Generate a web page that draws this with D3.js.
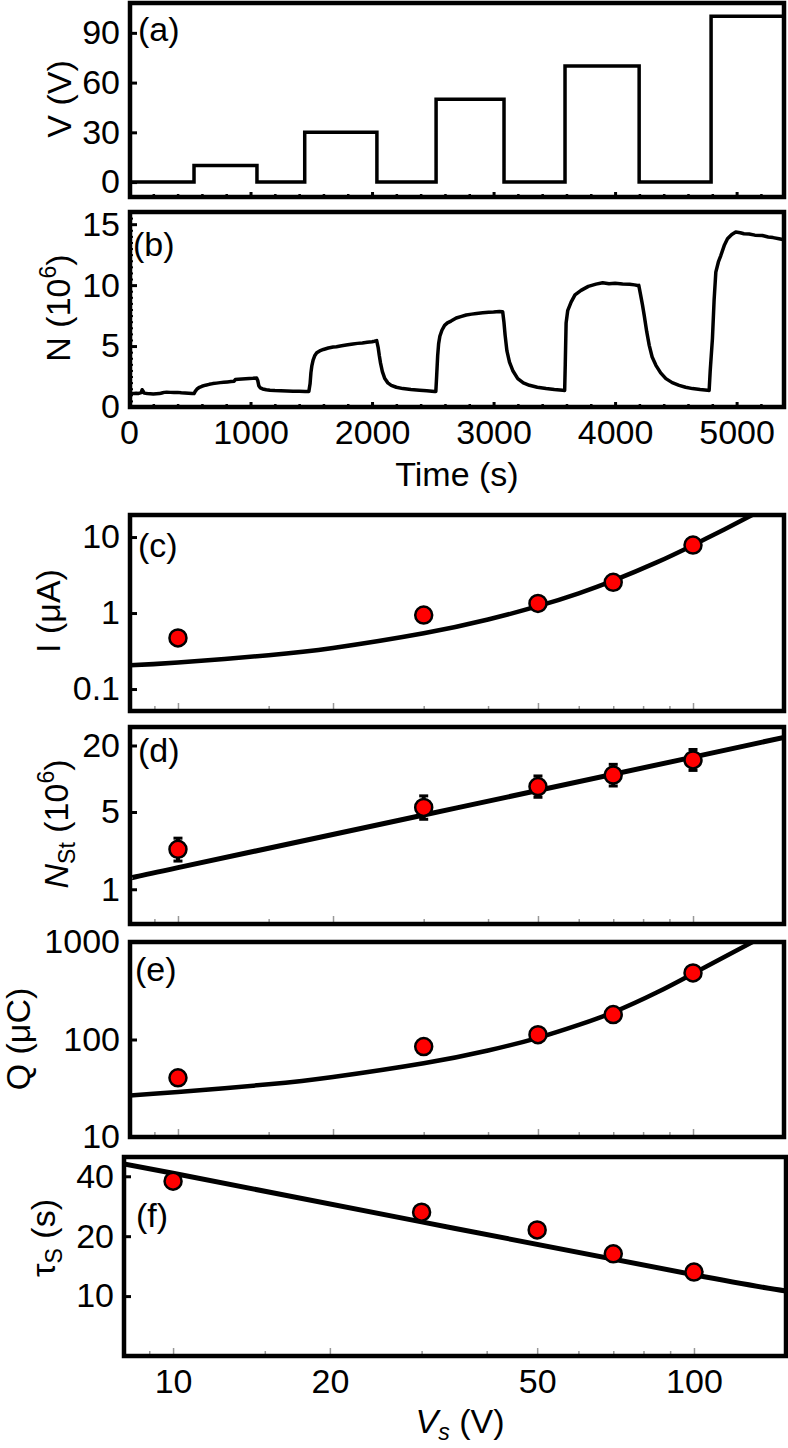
<!doctype html>
<html lang="en">
<head>
<meta charset="utf-8">
<title>Voltage steps, stored number and fits</title>
<script src="https://cdn.jsdelivr.net/npm/d3@7"></script>
<style>
  body { margin: 0; background: #fff; }
  svg text { font-family: "Liberation Sans", Arial, sans-serif; fill: #000; }
</style>
</head>
<body>
<svg id="fig" width="788" height="1448"></svg>
<script>
// (a) applied voltage steps: start time of each level and its value
const stepTime = [0, 535, 1053, 1446, 2040, 2527, 3086, 3588, 4198, 4790, 5390];
const stepVolt = [0, 10, 0, 30, 0, 50, 0, 70, 0, 100, 100];

const nTime = [0, 20, 40, 60, 80, 100, 108, 116, 125, 150, 175, 200, 225, 250, 270, 290, 310, 340, 370, 400, 430, 460, 490, 520, 535,
  545, 560, 580, 600, 630, 660, 690, 720, 750, 780, 810, 840, 865, 875, 900, 930, 960, 990, 1020, 1050,
  1060, 1068, 1080, 1100, 1130, 1160, 1200, 1250, 1300, 1350, 1400, 1450, 1480,
  1490, 1497, 1505, 1515, 1528, 1545, 1569, 1600, 1640, 1680, 1707, 1750, 1800, 1843, 1880, 1920, 1960, 2000, 2020, 2038,
  2050, 2060, 2070, 2085, 2105, 2130, 2158, 2200, 2254, 2320, 2391, 2450, 2514, 2525,
  2532, 2540, 2548, 2558, 2575, 2597, 2620, 2650, 2693, 2730, 2775, 2820, 2860, 2911, 2960, 3000, 3048, 3075,
  3085, 3095, 3110, 3131, 3160, 3199, 3245, 3295, 3360, 3432, 3500, 3569, 3585,
  3590, 3597, 3610, 3638, 3670, 3720, 3780, 3843, 3898, 3950, 4000, 4062, 4120, 4160, 4185, 4195,
  4210, 4225, 4240, 4260, 4281, 4305, 4336, 4375, 4418, 4470, 4527, 4580, 4637, 4700, 4760, 4774,
  4783, 4801, 4815, 4829, 4850, 4870, 4900, 4925, 4960, 4993, 5030, 5060, 5103, 5150, 5212, 5260, 5300, 5349, 5390];
const nValue = [1.15, 1.12, 1.10, 1.13, 1.11, 1.18, 1.42, 1.30, 1.14, 1.10, 1.08, 1.06, 1.09, 1.10, 1.15, 1.20, 1.22, 1.20, 1.19, 1.20, 1.17, 1.15, 1.13, 1.11, 1.10,
  1.28, 1.48, 1.62, 1.70, 1.79, 1.86, 1.92, 1.96, 2.00, 2.03, 2.06, 2.09, 2.12, 2.25, 2.28, 2.30, 2.32, 2.34, 2.35, 2.38,
  2.15, 1.75, 1.57, 1.48, 1.42, 1.38, 1.35, 1.33, 1.32, 1.30, 1.29, 1.28, 1.28,
  1.9, 2.8, 3.4, 3.85, 4.2, 4.45, 4.6, 4.72, 4.84, 4.92, 4.95, 5.02, 5.10, 5.17, 5.22, 5.26, 5.31, 5.36, 5.40, 5.45,
  4.9, 4.2, 3.6, 2.9, 2.33, 1.98, 1.78, 1.62, 1.51, 1.43, 1.37, 1.33, 1.28, 1.28,
  2.6, 4.2, 5.2, 5.8, 6.3, 6.7, 6.9, 7.05, 7.3, 7.42, 7.55, 7.62, 7.68, 7.73, 7.78, 7.80, 7.84, 7.82,
  7.0, 5.9, 4.6, 3.69, 2.95, 2.33, 1.98, 1.78, 1.62, 1.51, 1.43, 1.37, 1.36,
  3.5, 6.9, 7.9, 8.6, 9.2, 9.57, 9.9, 10.08, 10.2, 10.12, 10.15, 10.1, 10.08, 10.02, 9.97, 9.98,
  9.2, 8.4, 7.5, 6.2, 5.06, 4.1, 3.42, 2.8, 2.33, 2.0, 1.78, 1.62, 1.51, 1.43, 1.37, 1.36,
  3.0, 5.6, 8.8, 11.07, 11.9, 12.43, 13.3, 13.8, 14.15, 14.35, 14.3, 14.22, 14.2, 14.1, 14.07, 13.95, 13.9, 13.8, 13.72];

// (c)-(f) measured points versus source voltage Vs (V)
const vs = [10, 30, 50, 70, 100];
const current = [0.47, 0.94, 1.34, 2.54, 7.85];      // I (uA)
const stored = [2.3, 5.5, 8.5, 10.8, 14.8];          // N_St (10^6)
const storedLo = [1.8, 4.3, 6.8, 8.6, 11.9];
const storedHi = [2.9, 7.0, 10.6, 13.5, 18.4];
const charge = [40.5, 84.7, 112, 180, 482];          // Q (uC)
const tau = [37.8, 26.4, 21.5, 16.3, 13.2];          // tau_S (s)

// fitted curves
const currentFitV = [8.07, 10, 15, 20, 30, 40, 50, 60, 70, 85, 100, 115, 135];
const currentFit = [0.205, 0.223, 0.279, 0.347, 0.542, 0.822, 1.23, 1.82, 2.67, 4.64, 7.82, 12.6, 22.1];
const storedFitV = [8.07, 10, 30, 100, 150.2];
const storedFit = [1.26, 1.57, 4.7, 15.7, 23.7];
const chargeFitV = [8.07, 10, 15, 20, 30, 40, 50, 60, 70, 85, 100, 115, 135];
const chargeFit = [26.7, 28.9, 34.7, 41.2, 57, 77.1, 104, 141, 190, 303, 474, 701, 1100];
const tauFitV = [8.05, 10, 30, 100, 150.2];
const tauFit = [46.2, 41.4, 23.6, 12.8, 10.6];

// tick values
const timeMajor = [0, 1000, 2000, 3000, 4000, 5000];
const timeMinor = d3.range(200, 5390, 200).filter(t => t % 1000 !== 0);
const voltTicks = [0, 30, 60, 90];
const nTicks = [0, 5, 10, 15];
const nMinor = d3.range(0.5, 16, 0.5).filter(v => v % 5 !== 0);
const vsMajor = [10, 20, 50, 100];
const vsMinor = [9, 15, 30, 40, 60, 70, 80, 90];
const currentTicks = [0.1, 1, 10];
const storedTicks = [1, 5, 20];
const chargeTicks = [10, 100, 1000];
const tauTicks = [10, 20, 40];

const FS = 34;
const svg = d3.select("#fig");

const pA = {l: 130, r: 784, t: 3, b: 197};
const pB = {l: 130, r: 784, t: 212, b: 407};
const pC = {l: 130, r: 784, t: 515, b: 711};
const pD = {l: 130, r: 784, t: 727, b: 924};
const pE = {l: 130, r: 784, t: 942, b: 1137};
const pF = {l: 124, r: 786, t: 1157, b: 1356};

const xT = d3.scaleLinear([0, 5390], [129, 784]);
const yA = d3.scaleLinear([-9, 108], [pA.b, pA.t]);
const yB = d3.scaleLinear([0, 16], [pB.b, pB.t]);
const xV = d3.scaleLog([8.07, 150.2], [pC.l, pC.r]);
const xVF = d3.scaleLog([8.05, 150.2], [pF.l, pF.r]);
const yC = d3.scaleLog([0.0514, 19.5], [pC.b, pC.t]);
const yD = d3.scaleLog([0.485, 29.4], [pD.b, pD.t]);
const yE = d3.scaleLog([10, 1000], [pE.b, pE.t]);
const yF = d3.scaleLog([5, 50], [pF.b, pF.t]);

let clipN = 0;
function clipFor(p) {
  const id = "clip" + (clipN++);
  svg.append("clipPath").attr("id", id).append("rect")
    .attr("x", p.l).attr("y", p.t).attr("width", p.r - p.l).attr("height", p.b - p.t);
  return "url(#" + id + ")";
}

function frame(p) {
  svg.append("rect")
    .attr("x", p.l).attr("y", p.t).attr("width", p.r - p.l).attr("height", p.b - p.t)
    .attr("fill", "none").attr("stroke", "#000").attr("stroke-width", 4.5);
}

function styleAxis(g) {
  g.select(".domain").remove();
  g.attr("font-size", FS).attr("font-family", "'Liberation Sans', Arial, sans-serif");
}

function yAxis(scale, p, values, fmt) {
  const g = svg.append("g").attr("transform", `translate(${p.l},0)`)
    .call(d3.axisLeft(scale).tickValues(values).tickSize(-7).tickPadding(10).tickFormat(fmt));
  styleAxis(g);
  g.selectAll("line").attr("stroke-width", 3);
  return g;
}

function minorY(scale, p, values, size) {
  const g = svg.append("g").attr("transform", `translate(${p.l},0)`)
    .call(d3.axisLeft(scale).tickValues(values).tickSize(-size).tickFormat(""));
  styleAxis(g);
  g.selectAll("line").attr("stroke-width", 2);
}

function xTicks(scale, p, values, size, color, width, fmt) {
  const g = svg.append("g").attr("transform", `translate(0,${p.b})`)
    .call(d3.axisBottom(scale).tickValues(values).tickSize(-size).tickPadding(13)
      .tickFormat(fmt || ""));
  styleAxis(g);
  g.selectAll("line").attr("stroke", color).attr("stroke-width", width);
  return g;
}

function rich(text, parts) {
  let shift = 0;
  parts.forEach(q => {
    const target = q.sub ? 7 : q.sup ? -14 : 0;
    const ts = text.append("tspan").attr("dy", target - shift).text(q.t);
    shift = target;
    if (q.sub || q.sup) ts.attr("font-size", FS * 0.68);
    if (q.it) ts.attr("font-style", "italic");
  });
}

function yTitle(x, y, parts) {
  const t = svg.append("text").attr("transform", `translate(${x},${y}) rotate(-90)`)
    .attr("text-anchor", "middle").attr("font-size", FS);
  rich(t, parts);
}

function panelTag(x, y, s) {
  svg.append("text").attr("x", x).attr("y", y).attr("font-size", FS).text(s);
}

function markers(xs, ys, vals) {
  svg.append("g").selectAll("circle").data(vs).join("circle")
    .attr("cx", d => xs(d)).attr("cy", (d, i) => ys(vals[i])).attr("r", 8.5)
    .attr("fill", "#ff0000").attr("stroke", "#000").attr("stroke-width", 2.5);
}

function fitLine(xs, ys, p, fv, fy, w) {
  const line = d3.line().x(d => xs(d[0])).y(d => ys(d[1])).curve(d3.curveNatural);
  svg.append("path").datum(d3.zip(fv, fy)).attr("d", line)
    .attr("fill", "none").attr("stroke", "#000").attr("stroke-width", w)
    .attr("clip-path", clipFor(p));
}

// ---- (a) voltage steps
svg.append("path").datum(d3.zip(stepTime, stepVolt))
  .attr("d", d3.line().x(d => xT(d[0])).y(d => yA(d[1])).curve(d3.curveStepAfter))
  .attr("fill", "none").attr("stroke", "#000").attr("stroke-width", 3.5)
  .attr("clip-path", clipFor(pA));
yAxis(yA, pA, voltTicks, d3.format("d"));
xTicks(xT, pA, timeMajor, 5, "#000", 3);
xTicks(xT, pA, timeMinor, 3, "#000", 2.5);
frame(pA);
panelTag(138, 41, "(a)");
yTitle(71, 99, [{t: "V (V)"}]);

// ---- (b) N versus time
svg.append("path").datum(d3.zip(nTime, nValue))
  .attr("d", d3.line().x(d => xT(d[0])).y(d => yB(d[1])))
  .attr("fill", "none").attr("stroke", "#000").attr("stroke-width", 3.5).attr("stroke-linejoin", "round")
  .attr("clip-path", clipFor(pB));
yAxis(yB, pB, nTicks, d3.format("d"));
minorY(yB, pB, nMinor, 3);
xTicks(xT, pB, timeMajor, 5, "#000", 3, d3.format("d"));
xTicks(xT, pB, timeMinor, 3, "#000", 2.5);
frame(pB);
panelTag(133, 256, "(b)");
yTitle(70, 308, [{t: "N  (10"}, {t: "6", sup: true}, {t: ")"}]);
svg.append("text").attr("x", 457).attr("y", 486).attr("text-anchor", "middle")
  .attr("font-size", FS).text("Time (s)");

// ---- (c) current
fitLine(xV, yC, pC, currentFitV, currentFit, 4.5);
markers(xV, yC, current);
yAxis(yC, pC, currentTicks, d => d < 1 ? "0.1" : d3.format("d")(d));
xTicks(xV, pC, vsMajor, 8, "#999", 1.5);
xTicks(xV, pC, vsMinor, 5, "#999", 1.5);
frame(pC);
panelTag(138, 557, "(c)");
yTitle(60, 611, [{t: "I (μA)"}]);

// ---- (d) stored number with error bars
fitLine(xV, yD, pD, storedFitV, storedFit, 5);
const eb = svg.append("g");
eb.selectAll("line.bar").data(vs).join("line").attr("class", "bar")
  .attr("x1", d => xV(d)).attr("x2", d => xV(d))
  .attr("y1", (d, i) => yD(storedLo[i])).attr("y2", (d, i) => yD(storedHi[i]))
  .attr("stroke", "#000").attr("stroke-width", 4);
[storedLo, storedHi].forEach(arr => {
  eb.append("g").selectAll("line").data(vs).join("line")
    .attr("x1", d => xV(d) - 4.5).attr("x2", d => xV(d) + 4.5)
    .attr("y1", (d, i) => yD(arr[i])).attr("y2", (d, i) => yD(arr[i]))
    .attr("stroke", "#000").attr("stroke-width", 3);
});
markers(xV, yD, stored);
yAxis(yD, pD, storedTicks, d3.format("d"));
xTicks(xV, pD, vsMajor, 8, "#999", 1.5);
xTicks(xV, pD, vsMinor, 5, "#999", 1.5);
frame(pD);
panelTag(138, 762, "(d)");
yTitle(68, 824, [{t: "N", it: true}, {t: "St", sub: true}, {t: "  (10"}, {t: "6", sup: true}, {t: ")"}]);

// ---- (e) charge
fitLine(xV, yE, pE, chargeFitV, chargeFit, 4.5);
markers(xV, yE, charge);
yAxis(yE, pE, chargeTicks, d3.format("d"));
xTicks(xV, pE, vsMajor, 8, "#999", 1.5);
xTicks(xV, pE, vsMinor, 5, "#999", 1.5);
frame(pE);
panelTag(135, 981, "(e)");
yTitle(30, 1039, [{t: "Q (μC)"}]);

// ---- (f) time constant
fitLine(xVF, yF, pF, tauFitV, tauFit, 5);
markers(xVF, yF, tau);
yAxis(yF, pF, tauTicks, d3.format("d"));
xTicks(xVF, pF, vsMajor, 8, "#999", 1.5, d3.format("d"));
xTicks(xVF, pF, vsMinor, 5, "#999", 1.5);
frame(pF);
panelTag(136, 1227, "(f)");
yTitle(55, 1238, [{t: "τ"}, {t: "S", sub: true}, {t: " (s)"}]);
svg.append("text").attr("x", 460).attr("y", 1433).attr("text-anchor", "middle").attr("font-size", FS)
  .call(t => rich(t, [{t: "V", it: true}, {t: "s", sub: true, it: true}, {t: " (V)"}]));
</script>
</body>
</html>
